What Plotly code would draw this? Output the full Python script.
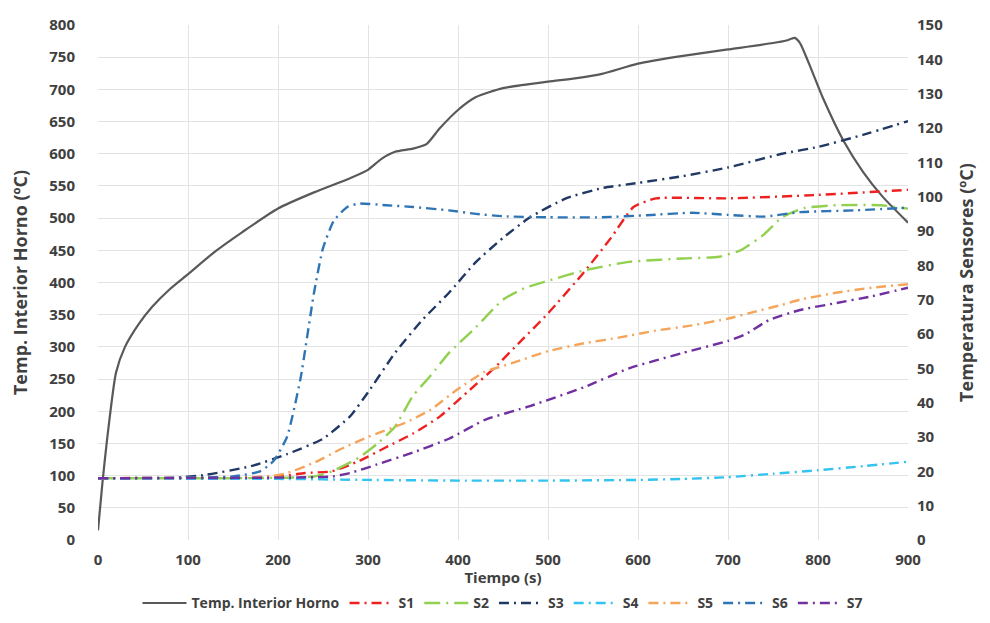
import plotly.graph_objects as go

# Oven interior temperature (left axis)
horno_t = [0, 5, 10, 20, 30, 45, 60, 80, 100, 130, 160, 200, 240, 280, 300, 315, 330, 350, 365, 380, 400, 420, 450, 500, 530, 560, 600, 650, 700, 750, 765, 774, 780, 790, 806, 828, 850, 872, 900]
horno_T = [15, 90, 155, 260, 300, 335, 362, 390, 413, 448, 478, 515, 540, 562, 575, 592, 603, 608, 615, 640, 668, 688, 702, 712, 717, 724, 740, 752, 762, 772, 776, 780, 772, 740, 685, 621, 572, 533, 493]

# Sensors (right axis)
s1_t = [0, 200, 230, 260, 290, 320, 350, 380, 410, 440, 470, 500, 540, 570, 595, 620, 700, 800, 900]
s1_v = [18, 18.5, 19.5, 20, 23, 27, 31, 36, 43, 50, 58, 66, 78, 88, 97, 99.5, 99.5, 100.5, 102]

s2_t = [0, 240, 260, 290, 310, 330, 350, 370, 390, 420, 450, 475, 500, 540, 590, 650, 690, 715, 740, 760, 785, 820, 870, 900]
s2_v = [18, 18.5, 20, 24, 28, 33, 42, 48, 54.5, 62, 70, 73.5, 75.5, 78.5, 81, 82, 82.5, 84.5, 89, 94, 96.7, 97.5, 97.5, 96.5]

s3_t = [0, 80, 120, 170, 210, 250, 280, 300, 330, 360, 390, 420, 450, 480, 520, 560, 600, 650, 700, 760, 800, 850, 900]
s3_v = [18, 18, 19, 21.5, 25, 29.5, 36, 43, 54.5, 64, 72, 81, 88, 94, 99.5, 102.5, 104, 106, 108.5, 112.5, 114.5, 118, 122]

s4_t = [0, 200, 300, 400, 500, 600, 650, 700, 750, 800, 850, 900]
s4_v = [17.8, 17.8, 17.5, 17.3, 17.3, 17.5, 17.8, 18.3, 19.3, 20.3, 21.5, 22.8]

s5_t = [0, 190, 210, 240, 270, 300, 340, 370, 400, 430, 460, 500, 540, 580, 620, 660, 700, 730, 760, 780, 820, 860, 900]
s5_v = [18, 18.5, 19.5, 22.5, 26.5, 30, 34, 38, 44, 49, 51.5, 55, 57.3, 59, 61, 62.5, 64.5, 66.5, 68.5, 70, 72, 73.5, 74.5]

s6_t = [0, 150, 180, 195, 210, 225, 240, 250, 262, 277, 290, 320, 350, 390, 420, 450, 500, 560, 610, 660, 700, 740, 780, 840, 900]
s6_v = [18, 18.5, 20, 23, 30, 47, 72, 85, 93, 97, 98, 97.5, 97, 96, 95, 94.3, 94, 94, 94.6, 95.3, 94.7, 94.2, 95.5, 96, 96.8]

s7_t = [0, 260, 280, 310, 350, 390, 430, 480, 540, 590, 650, 700, 720, 745, 780, 820, 860, 900]
s7_v = [18, 18.5, 19.5, 22, 25.5, 29.5, 35, 39, 44.5, 50, 54.5, 58, 60, 64, 67, 69, 71, 73.5]

sensor_names = ["S1", "S2", "S3", "S4", "S5", "S6", "S7"]
sensor_t = [s1_t, s2_t, s3_t, s4_t, s5_t, s6_t, s7_t]
sensor_v = [s1_v, s2_v, s3_v, s4_v, s5_v, s6_v, s7_v]
sensor_colors = ["#EE2020", "#92D050", "#203864", "#33C3F0", "#F5A55A", "#2E75B6", "#7030A0"]
sensor_dash = ["10px,5px,2px,5px", "16px,6px,2px,6px", "10px,5px,2px,5px", "10px,5px,2px,5px",
               "10px,5px,2px,5px", "10px,5px,2px,5px", "10px,5px,2px,5px"]

FONT = "Open Sans"
fig = go.Figure()
fig.add_trace(go.Scatter(x=horno_t, y=horno_T, name="Temp. Interior Horno", mode="lines",
                         line=dict(color="#595959", width=2.2, shape="spline", smoothing=0.6),
                         yaxis="y"))
for n, t, v, c, d in zip(sensor_names, sensor_t, sensor_v, sensor_colors, sensor_dash):
    fig.add_trace(go.Scatter(x=t, y=v, name=n, mode="lines",
                             line=dict(color=c, width=2.4, dash=d, shape="spline", smoothing=0.5),
                             yaxis="y2"))

tickfont = dict(family=FONT, size=15, color="#404040", weight="bold")
xtitlefont = dict(family=FONT, size=15, color="#404040", weight="bold")
ytitlefont = dict(family=FONT, size=18, color="#404040", weight="bold")

fig.update_layout(
    width=990, height=623,
    margin=dict(l=90, r=90, t=17, b=91),
    paper_bgcolor="white", plot_bgcolor="white",
    showlegend=True,
    legend=dict(orientation="h", x=0.5, xanchor="center", xref="paper",
                y=0.07, yanchor="top", yref="container",
                font=dict(family=FONT, size=14, color="#404040", weight="bold"),
                itemwidth=44, tracegroupgap=0, bgcolor="rgba(0,0,0,0)"),
    xaxis=dict(range=[0, 900], dtick=100, tick0=0, showgrid=True, gridcolor="#E3E3E3",
               zeroline=False, showline=False, tickfont=tickfont, ticks="",
               automargin=False, ticklabelstandoff=9,
               title=dict(text="Tiempo (s)", font=xtitlefont, standoff=0)),
    yaxis=dict(range=[0, 800], dtick=50, tick0=0, showgrid=True, gridcolor="#E3E3E3",
               zeroline=False, showline=False, tickfont=tickfont, ticks="",
               automargin=False, ticklabelstandoff=22,
               title=dict(text="Temp. Interior Horno (ºC)", font=ytitlefont, standoff=18)),
    yaxis2=dict(range=[0, 150], dtick=10, tick0=0, overlaying="y", side="right",
                showgrid=False, zeroline=False, showline=False, tickfont=tickfont, ticks="",
                automargin=False, ticklabelstandoff=8,
                title=dict(text="Temperatura Sensores (ºC)", font=ytitlefont, standoff=18)),
)

fig.write_html("out.html")
